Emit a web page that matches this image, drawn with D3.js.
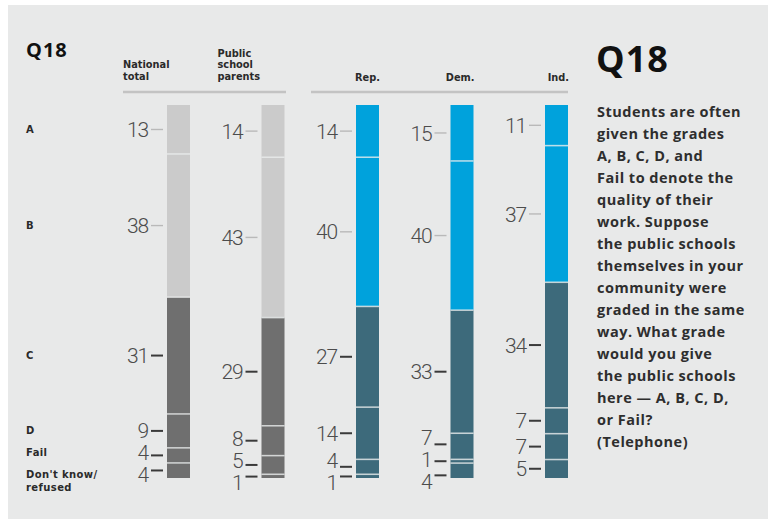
<!DOCTYPE html>
<html>
<head>
<meta charset="utf-8">
<script src="https://cdn.jsdelivr.net/npm/d3@7"></script>
<style>
  html, body { margin: 0; padding: 0; background: #ffffff; }
  svg { display: block; }
  .num { font-family: Roboto, "Liberation Sans", sans-serif; font-weight: 300; font-size: 21px; fill: #4c4c4c; letter-spacing: -1.2px; }
  .head { font-family: "DejaVu Sans", sans-serif; font-weight: 700; font-size: 9.8px; fill: #2a2a2a; }
  .row { font-family: "DejaVu Sans", sans-serif; font-weight: 700; font-size: 10px; fill: #2a2a2a; letter-spacing: 0.4px; }
  .title { font-family: "Open Sans", sans-serif; font-weight: 700; fill: #111; letter-spacing: 1px; }
  .para { font-family: "Open Sans", sans-serif; font-weight: 700; font-size: 14.5px; fill: #2e2e2e; letter-spacing: 0.5px; }
</style>
</head>
<body>
<svg id="chart" width="768" height="523"></svg>
<script>
const grades = ['A', 'B', 'C', 'D', 'Fail', "Don't know/refused"];
const groups = ['National total', 'Public school parents', 'Rep.', 'Dem.', 'Ind.'];
const nationalTotal = [13, 38, 31, 9, 4, 4];
const schoolParents = [14, 43, 29, 8, 5, 1];
const republicans = [14, 40, 27, 14, 4, 1];
const democrats = [15, 40, 33, 7, 1, 4];
const independents = [11, 37, 34, 7, 7, 5];
const questionLines = [
    'Students are often', 'given the grades', 'A, B, C, D, and', 'Fail to denote the',
    'quality of their', 'work. Suppose', 'the public schools', 'themselves in your',
    'community were', 'graded in the same', 'way. What grade', 'would you give',
    'the public schools', 'here \u2014 A, B, C, D,', 'or Fail?', '(Telephone)'
];

const seriesList = [nationalTotal, schoolParents, republicans, democrats, independents];

const chart = {
    barTop: 105,
    barBottom: 478,
    barWidth: 23,
    gap: 22
};

const palettes = [
    {light: '#cbcbcb', dark: '#6f6f6f'},
    {light: '#cbcbcb', dark: '#6f6f6f'},
    {light: '#00a2dc', dark: '#3d6a7b'},
    {light: '#00a2dc', dark: '#3d6a7b'},
    {light: '#00a2dc', dark: '#3d6a7b'}
];

const svg = d3.select('#chart');

// background panel
svg.append('rect').attr('x', 8).attr('y', 5).attr('width', 760).attr('height', 514).attr('fill', '#e8e9e9');

const xScale = d3.scalePoint().domain(groups).range([178.5, 556.5]);

function resolveLabels(centers, gap) {
    const pos = centers.slice();
    for (let iter = 0; iter < 80; iter++) {
        for (let i = 1; i < pos.length; i++) {
            const diff = pos[i] - pos[i - 1];
            if (diff < gap) {
                const d = (gap - diff) / 2;
                pos[i - 1] -= d;
                pos[i] += d;
            }
        }
    }
    return pos;
}

let nationalLabelY = [];

seriesList.forEach((values, gi) => {
    const group = groups[gi];
    const total = d3.sum(values);
    const y = d3.scaleLinear().domain([0, total]).range([chart.barTop, chart.barBottom]);
    const cum = d3.cumsum(values);
    const segs = values.map((v, i) => ({v: v, y0: cum[i] - v, y1: cum[i], grade: grades[i], idx: i}));
    const x0 = xScale(group) - chart.barWidth / 2;
    const g = svg.append('g');

    g.selectAll('rect').data(segs).enter().append('rect')
        .attr('x', x0)
        .attr('y', (d) => y(d.y0))
        .attr('width', chart.barWidth)
        .attr('height', (d) => y(d.y1) - y(d.y0))
        .attr('fill', (d) => d.idx < 2 ? palettes[gi].light : palettes[gi].dark);

    // thin separators between segments
    g.selectAll('line.sep').data(segs.slice(0, -1)).enter().append('line')
        .attr('class', 'sep')
        .attr('x1', x0).attr('x2', x0 + chart.barWidth)
        .attr('y1', (d) => y(d.y1)).attr('y2', (d) => y(d.y1))
        .attr('stroke', 'rgba(235,238,238,0.75)')
        .attr('stroke-width', 1.6);

    const centers = segs.map((d) => (y(d.y0) + y(d.y1)) / 2);
    const labelY = resolveLabels(centers, chart.gap);
    if (gi === 0) nationalLabelY = labelY;

    segs.forEach((d, i) => {
        const ly = labelY[i];
        const ty = ly + Math.max(-6, Math.min(7, centers[i] - ly));
        g.append('line')
            .attr('x1', x0 - 16).attr('x2', x0 - 4)
            .attr('y1', ty).attr('y2', ty)
            .attr('stroke', d.idx < 2 ? '#b9b9b9' : '#3a3a3a')
            .attr('stroke-width', d.idx < 2 ? 1.4 : 2);
        g.append('text')
            .attr('class', 'num')
            .attr('x', x0 - 19)
            .attr('y', ly)
            .attr('dy', '0.36em')
            .attr('text-anchor', 'end')
            .text(d.v);
    });

    // column header
    if (gi < 2) {
        const words = group === 'National total' ? ['National', 'total'] : ['Public', 'school', 'parents'];
        const hx = x0 - 44;
        words.forEach((w, wi) => {
            svg.append('text').attr('class', 'head')
                .attr('x', hx)
                .attr('y', 80 - (words.length - 1 - wi) * 11.6)
                .text(w);
        });
    } else {
        svg.append('text').attr('class', 'head')
            .attr('x', x0 + chart.barWidth + 1)
            .attr('y', 81)
            .attr('text-anchor', 'end')
            .text(group);
    }
});

// header rules
svg.append('line').attr('x1', 123).attr('x2', 286).attr('y1', 92).attr('y2', 92)
    .attr('stroke', '#c3c3c3').attr('stroke-width', 2.5);
svg.append('line').attr('x1', 311).attr('x2', 568).attr('y1', 92).attr('y2', 92)
    .attr('stroke', '#c3c3c3').attr('stroke-width', 2.5);

// row labels
grades.forEach((gr, i) => {
    const t = svg.append('text').attr('class', 'row')
        .attr('x', 26)
        .attr('y', nationalLabelY[i])
        .attr('dy', '0.35em');
    if (gr.indexOf('/') >= 0) {
        const parts = gr.split('/');
        t.append('tspan').attr('x', 26).text(parts[0] + '/');
        t.append('tspan').attr('x', 26).attr('dy', '1.3em').text(parts[1]);
    } else {
        t.text(gr);
    }
});

// titles
svg.append('text').attr('class', 'title').attr('x', 26).attr('y', 57).style('font-size', '20px').text('Q18');
svg.append('text').attr('class', 'title').attr('x', 596).attr('y', 72).style('font-size', '36px').text('Q18');

const para = svg.append('text').attr('class', 'para');
questionLines.forEach((line, i) => {
    para.append('tspan').attr('x', 597).attr('y', 117 + i * 22).text(line);
});
</script>
</body>
</html>
